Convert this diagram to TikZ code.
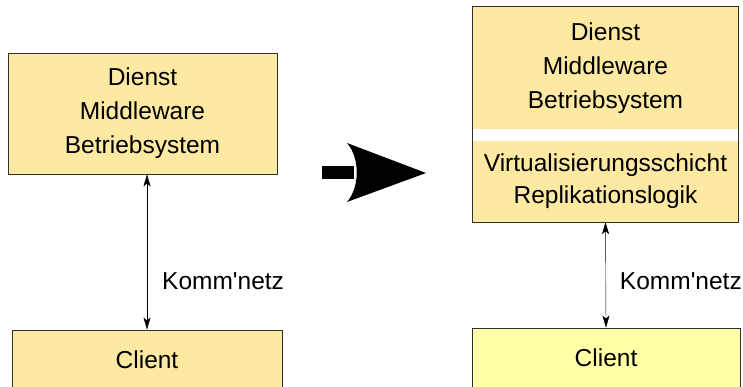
\documentclass[tikz,border=0pt]{standalone}
\usepackage{fontspec}
\setmainfont{Liberation Sans}
\usepackage{tikz}
\usetikzlibrary{arrows.meta,calc}
\usepackage{xcolor}
\definecolor{layerfill}{HTML}{FDE9A2}
\definecolor{clientfill}{HTML}{FFFFA8}
\definecolor{frame}{HTML}{303030}

\begin{document}
\begin{tikzpicture}[x=1pt, y=1pt, >={Stealth[length=12pt,width=7pt,inset=3pt]},
    layer/.style={fill=layerfill, inner sep=0pt, align=center,
      font=\fontsize{24.5}{34}\selectfont},
    box/.style={layer, draw=frame, line width=0.8pt},
    net/.style={font=\fontsize{24.5}{34}\selectfont, inner sep=0pt}]
  \useasboundingbox (0,0) rectangle (743,387);

  % left side: service stack over the client
  \node[box, minimum width=269, minimum height=121] (lstack) at (142.5,273.5)
    {Dienst\\Middleware\\Betriebsystem};
  \node[box, minimum width=270, minimum height=60] (lclient) at (147,27) {Client};
  \draw[<->, thin] (lstack.south -| lclient.north) -- node[net, pos=0.69, right=15pt] (lnet) {Komm\textquotesingle netz} (lclient.north);

  % the big arrow in the middle
  \fill (322,208) rectangle (354,221);
  \fill (347,244) -- (426,214) -- (347,185) .. controls (360,200) and (360,229) .. (347,244);

  % right side: stack with the extra layer
  \node[layer, minimum width=265, minimum height=122] (rtop) at (605.5,319)
    {Dienst\\Middleware\\Betriebsystem};
  \node[layer, minimum width=265, minimum height=81, font=\fontsize{24.5}{32}\selectfont] (rvirt) at (605.5,205.5)
    {Virtualisierungsschicht\\Replikationslogik};
  \draw[frame, line width=0.8pt] (rtop.north west) rectangle (rvirt.south east);
  \node[box, fill=clientfill, minimum width=268, minimum height=60] (rclient) at (606,29) {Client};
  \draw[<->, thin] (rvirt.south) -- node[net, pos=0.56, right=14pt] (rnet) {Komm\textquotesingle netz} (rclient.north);
\end{tikzpicture}
\end{document}
